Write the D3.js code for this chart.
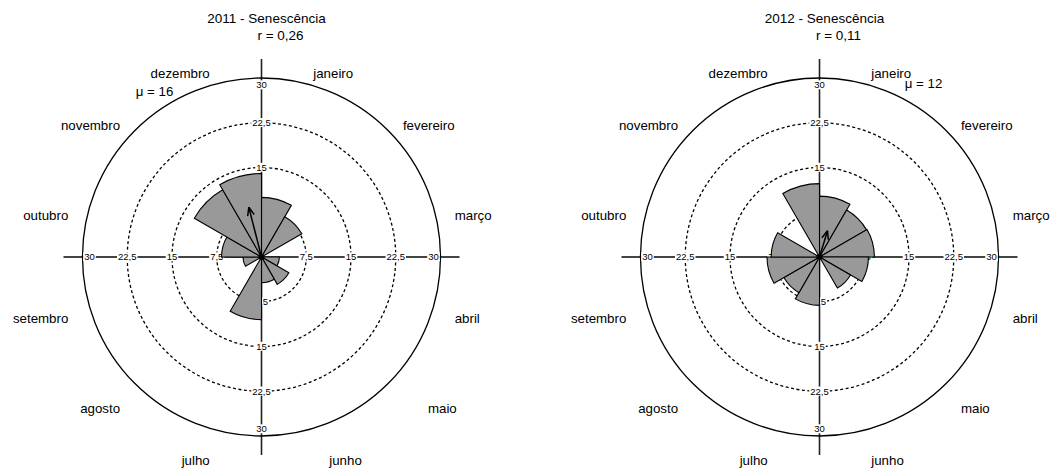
<!DOCTYPE html>
<html><head><meta charset="utf-8">
<script src="https://cdn.jsdelivr.net/npm/d3@7"></script>
<style>body{margin:0;background:#fff}svg{display:block}text{font-family:"Liberation Sans",Arial,sans-serif;fill:#000}</style>
</head><body>
<svg id="c" width="1052" height="470"></svg>
<script>
const months = ["janeiro","fevereiro","março","abril","maio","junho","julho","agosto","setembro","outubro","novembro","dezembro"];
const values2011 = [10, 7.8, 0, 3, 5.3, 4.3, 10.5, 0, 3.1, 6.7, 13, 14];
const values2012 = [10.2, 9.1, 9.2, 8.2, 6, 0, 8.1, 6.9, 8.8, 8.1, 0, 12.3];
const titles = ["2011 - Senescência", "2012 - Senescência"];
const rLabels = ["r = 0,26", "r = 0,11"];
const muLabels = ["μ = 16", "μ = 12"];
const meanAngles = [345.7, 17];
const meanLengths = [8.6, 4.6];
const ringTicks = [7.5, 15, 22.5, 30];
const tickLabels = ["7,5", "15", "22,5", "30"];

const panels = [
  {cx: 261.5, cy: 257, values: values2011, title: titles[0], rl: rLabels[0], mu: muLabels[0], ma: meanAngles[0], ml: meanLengths[0], muDx: -107, muDy: -166, nudge: {"maio": 25, "junho": 16}},
  {cx: 819.5, cy: 257, values: values2012, title: titles[1], rl: rLabels[1], mu: muLabels[1], ma: meanAngles[1], ml: meanLengths[1], muDx: 104, muDy: -174, nudge: {}}
];

const svg = d3.select("#c");
const r = d3.scaleLinear().domain([0, 30]).range([0, 179]);
const ang = d3.scaleBand().domain(months).range([0, 2 * Math.PI]).padding(0);

panels.forEach(p => {
  const g = svg.append("g").attr("transform", `translate(${p.cx},${p.cy})`);
  g.append("text").attr("x", 5).attr("y", -234).attr("text-anchor", "middle").style("font-size", "13.5px").text(p.title);
  g.append("text").attr("x", 19).attr("y", -217).attr("text-anchor", "middle").style("font-size", "13.5px").text(p.rl);

  const ext = 198;
  g.append("line").attr("x1", -ext).attr("x2", ext).attr("y1", 0).attr("y2", 0).attr("stroke", "#444").attr("stroke-width", 1.8);
  g.append("line").attr("y1", -ext).attr("y2", ext).attr("x1", 0).attr("x2", 0).attr("stroke", "#222").attr("stroke-width", 1.6);

  g.selectAll("circle.ring").data(ringTicks).join("circle").attr("class", "ring")
    .attr("r", d => r(d)).attr("fill", "none").attr("stroke", "#000")
    .attr("stroke-width", 1.3)
    .attr("stroke-dasharray", d => d === 30 ? null : "3,2.5");

  const dirs = [[1,0],[-1,0],[0,1],[0,-1]];
  dirs.forEach(([dx, dy]) => {
    ringTicks.forEach((t, i) => {
      const rr = t === 30 ? r(t) - 7 : r(t);
      const lg = g.append("g").attr("transform", `translate(${dx * rr},${dy * rr})`);
      const tx = lg.append("text").attr("text-anchor", "middle").attr("dy", "0.35em")
        .style("font-size", "9.5px").text(tickLabels[i]);
      const bb = tx.node().getBBox();
      lg.insert("rect", "text").attr("x", bb.x - 1).attr("y", bb.y + 1).attr("width", bb.width + 2).attr("height", bb.height - 2).attr("fill", "#fff");
    });
  });

  months.forEach(m => {
    const a = ang(m) + ang.bandwidth() / 2;
    const x = 200 * Math.sin(a) + (p.nudge[m] || 0), y = -200 * Math.cos(a) + 10;
    g.append("text").attr("x", x).attr("y", y).attr("dy", "0.35em")
      .attr("text-anchor", Math.sin(a) > 0 ? "start" : "end")
      .style("font-size", "13.3px").text(m);
  });

  const arc = d3.arc().innerRadius(0)
    .outerRadius(d => r(d.v))
    .startAngle(d => ang(d.m)).endAngle(d => ang(d.m) + ang.bandwidth());
  g.selectAll("path.bar").data(months.map((m, i) => ({m, v: p.values[i]})).filter(d => d.v > 0))
    .join("path").attr("class", "bar").attr("d", arc)
    .attr("fill", "#999").attr("stroke", "#000").attr("stroke-width", 1.1);

  const a = p.ma * Math.PI / 180, L = r(p.ml);
  const tipx = L * Math.sin(a), tipy = -L * Math.cos(a);
  g.append("line").attr("x1", 0).attr("y1", 0).attr("x2", tipx).attr("y2", tipy).attr("stroke", "#000").attr("stroke-width", 1.5);
  [-0.38, 0.38].forEach(da => {
    const b = a + Math.PI + da;
    g.append("line").attr("x1", tipx).attr("y1", tipy)
      .attr("x2", tipx + 9 * Math.sin(b)).attr("y2", tipy - 9 * Math.cos(b))
      .attr("stroke", "#000").attr("stroke-width", 1.5);
  });
  g.append("circle").attr("r", 3).attr("fill", "#000");

  g.append("text").attr("x", p.muDx).attr("y", p.muDy).attr("dy", "0.35em").attr("text-anchor", "middle").style("font-size", "13.3px").text(p.mu);
});
</script>
</body></html>
